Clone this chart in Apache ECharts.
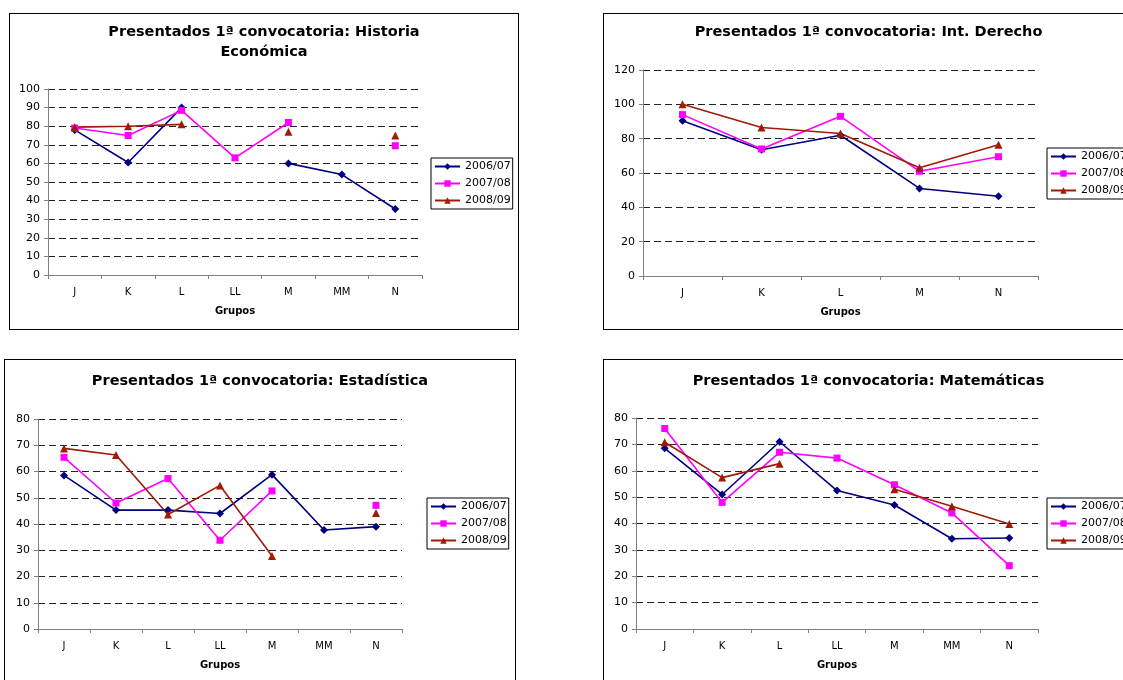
<!DOCTYPE html>
<html>
<head>
<meta charset="utf-8">
<script src="https://cdn.jsdelivr.net/npm/echarts@6/dist/echarts.min.js"></script>
<style>
  html, body { margin: 0; padding: 0; width: 1123px; height: 680px; overflow: hidden; background: #fff; }
  .box { position: absolute; border: 1px solid #000; background: #fff; box-sizing: content-box; }
</style>
</head>
<body>
<div id="c1" class="box" style="left:9px;top:13px;width:508px;height:315px;"></div>
<div id="c2" class="box" style="left:603px;top:13px;width:529px;height:315px;"></div>
<div id="c3" class="box" style="left:4px;top:359px;width:510px;height:330px;"></div>
<div id="c4" class="box" style="left:603px;top:359px;width:529px;height:330px;"></div>
<script>
// ---- Data ----
const seriesNames = ['2006/07', '2007/08', '2008/09'];

// Historia Económica
const histCategories = ['J', 'K', 'L', 'LL', 'M', 'MM', 'N'];
const hist2006 = [78, 60.5, 90, null, 60, 54, 35.5];
const hist2007 = [79, 75, 88.5, 63, 82, null, 69.5];
const hist2008 = [79.5, 80, 81, null, 77, null, 75];

// Int. Derecho
const derCategories = ['J', 'K', 'L', 'M', 'N'];
const der2006 = [90.5, 73.5, 82, 51, 46.5];
const der2007 = [94, 74, 93, 61, 69.5];
const der2008 = [100, 86.5, 83, 63, 76.5];

// Estadística
const estCategories = ['J', 'K', 'L', 'LL', 'M', 'MM', 'N'];
const est2006 = [58.5, 45.3, 45.3, 44, 58.8, 37.7, 39];
const est2007 = [65.4, 48, 57.3, 33.8, 52.6, null, 47.1];
const est2008 = [68.8, 66.3, 43.6, 54.7, 27.8, null, 44.2];

// Matemáticas
const matCategories = ['J', 'K', 'L', 'LL', 'M', 'MM', 'N'];
const mat2006 = [68.5, 51, 71, 52.5, 47, 34.2, 34.5];
const mat2007 = [76, 48, 67, 64.8, 54.7, 44, 24];
const mat2008 = [70.8, 57.4, 62.7, null, 53, 46.5, 39.8];

// ---- Styling ----
const FONT = 'DejaVu Sans, Verdana, sans-serif';
const colors = ['#000080', '#ff00ff', '#a01a08'];
const symbols = ['diamond', 'rect', 'triangle'];
const symbolSizes = [8, 7, 8];

function makeChart(id, cfg) {
  const chart = echarts.init(document.getElementById(id), null, { renderer: 'canvas' });
  const series = cfg.data.map((d, i) => ({
    name: seriesNames[i],
    type: 'line',
    data: d,
    connectNulls: false,
    symbol: symbols[i],
    symbolSize: symbolSizes[i],
    showSymbol: true,
    showAllSymbol: true,
    lineStyle: { color: colors[i], width: 1.6 },
    itemStyle: { color: colors[i] },
    emphasis: { disabled: true },
    animation: false
  }));
  chart.setOption({
    animation: false,
    textStyle: { fontFamily: FONT },
    title: {
      text: cfg.title,
      left: 'center',
      top: cfg.titleTop,
      padding: 0,
      textStyle: { fontFamily: FONT, fontSize: 14.5, fontWeight: 'bold', color: '#000', lineHeight: 20 }
    },
    legend: {
      orient: 'vertical',
      left: cfg.legend[0],
      top: cfg.legend[1],
      data: seriesNames,
      borderColor: '#000',
      borderWidth: 1,
      padding: [3, 2, 3, 3],
      itemWidth: 25,
      itemHeight: 8,
      itemGap: 6,
      textStyle: { fontFamily: FONT, fontSize: 11, color: '#000' }
    },
    grid: { left: cfg.grid[0], top: cfg.grid[1], width: cfg.grid[2], height: cfg.grid[3], containLabel: false },
    xAxis: {
      type: 'category',
      data: cfg.categories,
      boundaryGap: true,
      name: 'Grupos',
      nameLocation: 'middle',
      nameGap: 31,
      nameTextStyle: { fontFamily: FONT, fontSize: 10, fontWeight: 'bold', color: '#000' },
      axisLine: { lineStyle: { color: '#808080', width: 1 } },
      axisTick: { show: true, inside: false, length: 4, lineStyle: { color: '#808080' } },
      axisLabel: { fontFamily: FONT, fontSize: 10, color: '#000', margin: 12 },
      splitLine: { show: false }
    },
    yAxis: {
      type: 'value',
      min: 0,
      max: cfg.yMax,
      interval: cfg.yInterval,
      axisLine: { show: true, lineStyle: { color: '#808080', width: 1 } },
      axisTick: { show: true, inside: false, length: 4, lineStyle: { color: '#808080' } },
      axisLabel: { fontFamily: FONT, fontSize: 11, color: '#000', margin: 8 },
      splitLine: { show: true, lineStyle: { color: '#222', type: [7, 4], width: 1 } }
    },
    series: series
  });
}

makeChart('c1', {
  title: 'Presentados 1ª convocatoria: Historia\nEconómica',
  titleTop: 8,
  categories: histCategories,
  data: [hist2006, hist2007, hist2008],
  yMax: 100, yInterval: 10,
  grid: [38, 75, 374, 186],
  legend: [421, 144]
});
makeChart('c2', {
  title: 'Presentados 1ª convocatoria: Int. Derecho',
  titleTop: 8,
  categories: derCategories,
  data: [der2006, der2007, der2008],
  yMax: 120, yInterval: 20,
  grid: [39, 56, 395, 206],
  legend: [443, 134]
});
makeChart('c3', {
  title: 'Presentados 1ª convocatoria: Estadística',
  titleTop: 11,
  categories: estCategories,
  data: [est2006, est2007, est2008],
  yMax: 80, yInterval: 10,
  grid: [33, 59, 364, 210],
  legend: [422, 138]
});
makeChart('c4', {
  title: 'Presentados 1ª convocatoria: Matemáticas',
  titleTop: 11,
  categories: matCategories,
  data: [mat2006, mat2007, mat2008],
  yMax: 80, yInterval: 10,
  grid: [32, 58, 402, 211],
  legend: [443, 138]
});
</script>
</body>
</html>
